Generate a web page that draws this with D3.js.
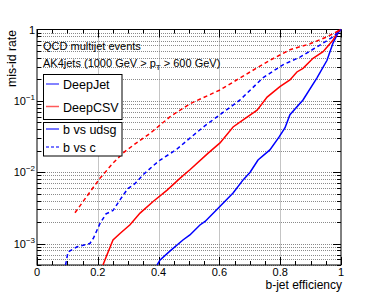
<!DOCTYPE html>
<html>
<head>
<meta charset="utf-8">
<script src="https://cdn.jsdelivr.net/npm/d3@7"></script>
<style>
html,body{margin:0;padding:0;background:#fff;}
svg{display:block;font-family:"Liberation Sans",Arial,Helvetica,sans-serif;}
</style>
</head>
<body>
<svg id="chart" width="381" height="295"></svg>
<script>
// ---- data (efficiency, mis-id rate) ----
const deepJetUdsgEff = [0.395,0.405,0.438,0.480,0.503,0.536,0.553,0.595,0.645,0.678,0.701,0.727,0.766,0.796,0.816,0.832,0.875,0.921,0.954,0.974,0.990,1.0];
const deepJetUdsgMis = [5.0e-4,5.9e-4,7.9e-4,1.12e-3,1.32e-3,1.82e-3,2.04e-3,3.09e-3,5.1e-3,7.8e-3,0.0100,0.0148,0.0205,0.031,0.042,0.064,0.103,0.21,0.37,0.65,0.89,1.0];

const deepCSVUdsgEff = [0.217,0.230,0.250,0.273,0.306,0.339,0.382,0.428,0.470,0.503,0.563,0.602,0.645,0.678,0.724,0.757,0.799,0.832,0.855,0.875,0.908,0.941,0.974,0.990,1.0];
const deepCSVUdsgMis = [5.0e-4,6.9e-4,1.12e-3,1.38e-3,1.83e-3,2.67e-3,3.88e-3,5.6e-3,8.2e-3,0.0108,0.0185,0.0257,0.043,0.054,0.074,0.113,0.158,0.196,0.254,0.286,0.395,0.489,0.71,0.95,1.0];

const deepJetCEff = [0.094,0.102,0.132,0.174,0.186,0.207,0.227,0.250,0.273,0.299,0.322,0.349,0.382,0.405,0.457,0.503,0.553,0.602,0.668,0.743,0.809,0.865,0.921,0.974,1.0];
const deepJetCMis = [5.0e-4,7.6e-4,9.0e-4,1.0e-3,1.2e-3,1.9e-3,2.6e-3,2.9e-3,4.1e-3,5.9e-3,6.9e-3,9.2e-3,0.0123,0.0148,0.0205,0.030,0.045,0.064,0.103,0.21,0.32,0.41,0.57,0.79,1.0];

const deepCSVCEff = [0.125,0.164,0.207,0.250,0.283,0.296,0.339,0.372,0.438,0.503,0.602,0.701,0.766,0.832,0.898,0.954,0.990,1.0];
const deepCSVCMis = [2.7e-3,4.6e-3,8.2e-3,0.0134,0.0185,0.0205,0.028,0.035,0.060,0.091,0.142,0.254,0.37,0.52,0.63,0.79,0.95,1.0];

const xTickValues = [0,0.2,0.4,0.6,0.8,1];
const xTickLabels = ["0","0.2","0.4","0.6","0.8","1"];
const yMajorValues = [1e-3,1e-2,1e-1,1];
const yMajorExps = ["-3","-2","-1",""];
const legendTaggers = ["DeepJet","DeepCSV"];
const legendCats = ["b vs udsg","b vs c"];
const textLine1 = "QCD multijet events";

// ---- layout ----
const svg = d3.select("#chart");
const L=37, R=341, T=29.5, B=265;
const x = d3.scaleLinear().domain([0,1]).range([L,R]);
const y = d3.scaleLog().domain([5e-4,1]).range([B,T]);

// minor values
const xMinor = d3.range(0,1.0001,0.05);
const yMinor = [];
[1e-4,1e-3,1e-2,1e-1].forEach(d=>{for(let k=1;k<=9;k++){const v=d*k; if(v>=5e-4-1e-12 && v<=1+1e-12) yMinor.push(v);}});

// grid
const grid = svg.append("g").attr("stroke","#8a8a8a").attr("stroke-width",1).attr("stroke-dasharray","1,1");
xTickValues.filter(v=>v>0&&v<1).forEach(v=>{
  grid.append("line").attr("x1",Math.round(x(v))+0.5).attr("x2",Math.round(x(v))+0.5).attr("y1",T).attr("y2",B);
});
yMinor.filter(v=>v<1).forEach(v=>{
  grid.append("line").attr("x1",L).attr("x2",R).attr("y1",Math.round(y(v))+0.5).attr("y2",Math.round(y(v))+0.5);
});

// ticks
const ticks = svg.append("g").attr("stroke","#000").attr("stroke-width",1);
xMinor.forEach(v=>{
  const major = Math.abs(v/0.2-Math.round(v/0.2))<1e-6;
  const len = major?8:4;
  const px = Math.round(x(v))+0.5;
  ticks.append("line").attr("x1",px).attr("x2",px).attr("y1",B).attr("y2",B-len);
  ticks.append("line").attr("x1",px).attr("x2",px).attr("y1",T).attr("y2",T+len);
});
yMinor.forEach(v=>{
  const major = yMajorValues.some(m=>Math.abs(m-v)/m<1e-6);
  const len = major?8:4;
  const py = Math.round(y(v))+0.5;
  ticks.append("line").attr("x1",L).attr("x2",L+len).attr("y1",py).attr("y2",py);
  ticks.append("line").attr("x1",R).attr("x2",R-len).attr("y1",py).attr("y2",py);
});

// frame
svg.append("rect").attr("x",L).attr("y",T).attr("width",R-L).attr("height",B-T)
  .attr("fill","none").attr("stroke","#000").attr("stroke-width",1);

// tick labels
xTickValues.forEach((v,i)=>{
  svg.append("text").attr("x",x(v)).attr("y",B+11).attr("text-anchor","middle")
    .attr("font-size",11).text(xTickLabels[i]);
});
yMajorValues.forEach((v,i)=>{
  const t = svg.append("text").attr("x",35).attr("y",y(v)+4).attr("text-anchor","end").attr("font-size",11);
  if(yMajorExps[i]===""){ t.text("1"); }
  else {
    t.append("tspan").text("10");
    t.append("tspan").attr("font-size",8).attr("dy",-5).text("\u2212"+yMajorExps[i].slice(1));
  }
});

// axis titles
svg.append("text").attr("x",342).attr("y",288.5).attr("text-anchor","end").attr("font-size",12).text("b-jet efficiency");
svg.append("text").attr("transform","translate(16,30) rotate(-90)").attr("text-anchor","end").attr("font-size",12.2).text("mis-id rate");

// annotations
svg.append("text").attr("x",43).attr("y",50).attr("font-size",11).text(textLine1);
const t2 = svg.append("text").attr("x",43).attr("y",66.5).attr("font-size",11);
t2.append("tspan").text("AK4jets (1000 GeV > p");
t2.append("tspan").attr("font-size",8).attr("dy",3).text("T");
t2.append("tspan").attr("dy",-3).text(" > 600 GeV)");

// curves
const series = [
  {eff:deepJetUdsgEff, mis:deepJetUdsgMis, color:"#0000ff", dash:null},
  {eff:deepCSVUdsgEff, mis:deepCSVUdsgMis, color:"#ff0000", dash:null},
  {eff:deepJetCEff, mis:deepJetCMis, color:"#0000ff", dash:"4,3"},
  {eff:deepCSVCEff, mis:deepCSVCMis, color:"#ff0000", dash:"4,3"}
];
const line = d3.line().x(d=>x(d[0])).y(d=>y(d[1]));
svg.append("clipPath").attr("id","pc").append("rect").attr("x",L).attr("y",T-2).attr("width",R-L+2).attr("height",B-T+2);
series.forEach(s=>{
  const pts = s.eff.map((e,i)=>[e,s.mis[i]]);
  svg.append("path").attr("d",line(pts)).attr("fill","none").attr("stroke",s.color)
    .attr("stroke-width",1.5).attr("stroke-dasharray",s.dash).attr("clip-path","url(#pc)");
});

// legends
const lg = svg.append("g");
lg.append("rect").attr("x",43.5).attr("y",74.5).attr("width",78.5).attr("height",45).attr("fill","#fff").attr("stroke","#000");
lg.append("rect").attr("x",43.5).attr("y",122.5).attr("width",78.5).attr("height",33.5).attr("fill","#fff").attr("stroke","#000");
const legColors = ["#5a5aff","#ff5a5a"];
const legY1 = [84,106.5];
legendTaggers.forEach((n,i)=>{
  lg.append("line").attr("x1",46).attr("x2",59).attr("y1",legY1[i]).attr("y2",legY1[i]).attr("stroke",legColors[i]).attr("stroke-width",1.5);
  lg.append("text").attr("x",63).attr("y",legY1[i]+5).attr("font-size",12.5).text(n);
});
const legY2 = [129,147];
legendCats.forEach((n,i)=>{
  lg.append("line").attr("x1",46).attr("x2",59).attr("y1",legY2[i]).attr("y2",legY2[i]).attr("stroke","#4a4aff").attr("stroke-width",1.5)
    .attr("stroke-dasharray",i===1?"3,2":null);
  lg.append("text").attr("x",63).attr("y",legY2[i]+4.5).attr("font-size",12.5).text(n);
});
</script>
</body>
</html>
